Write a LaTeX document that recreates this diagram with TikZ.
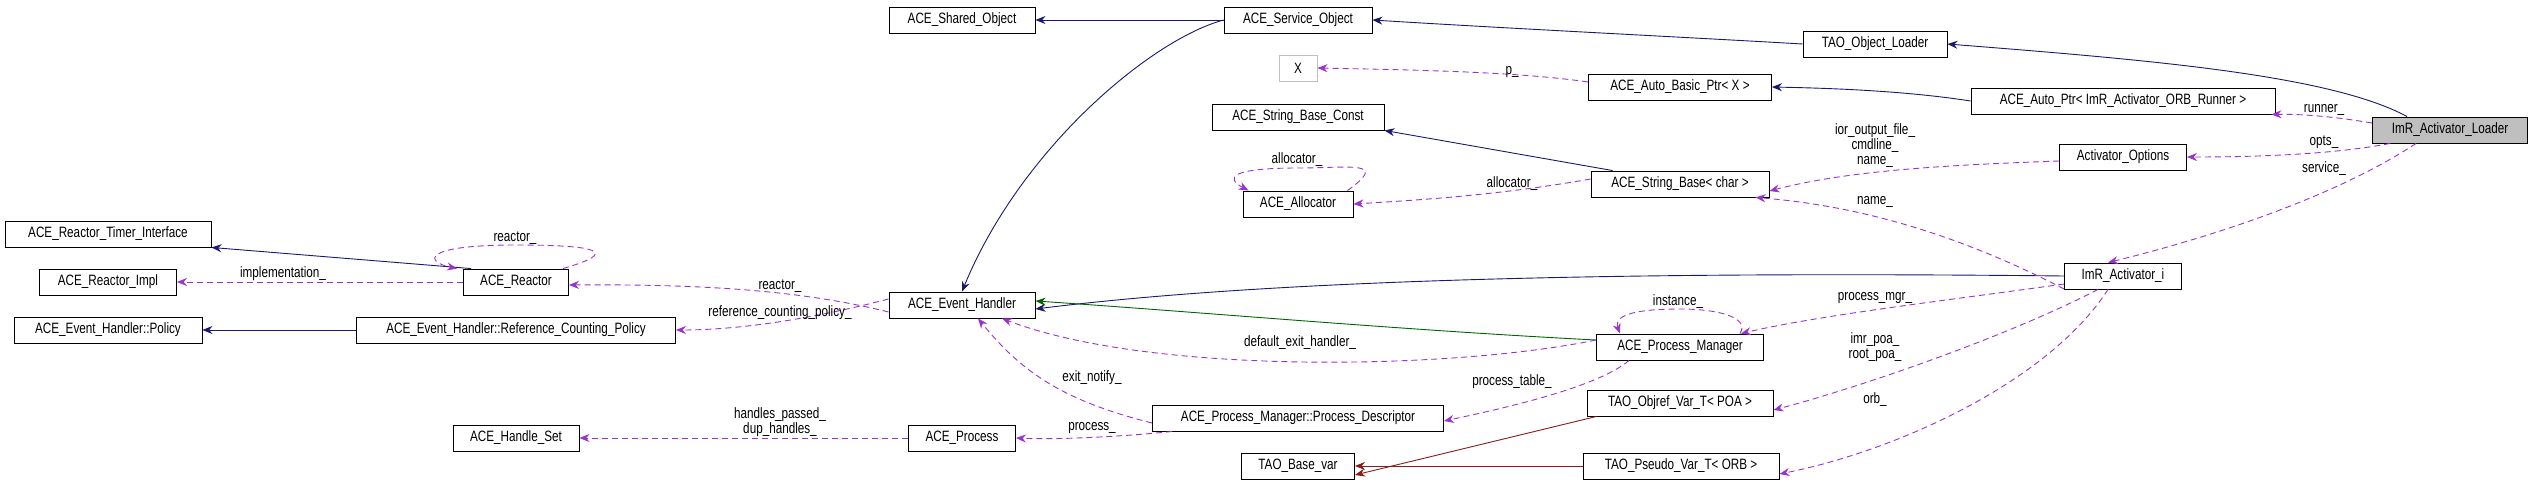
\documentclass[tikz,border=0pt]{standalone}
\usepackage{fontspec}
\setmainfont{Liberation Sans}
\usetikzlibrary{arrows.meta}
\definecolor{navy}{HTML}{191970}
\definecolor{purp}{HTML}{9A32CD}
\definecolor{dgreen}{HTML}{006400}
\definecolor{dred}{HTML}{8B1A1A}
\newcommand{\tx}[1]{\scalebox{0.78}[1]{#1}}
\tikzset{
  box/.style={draw=black, line width=0.9pt, minimum height=26pt, inner sep=0pt, font=\fontsize{15}{16}\selectfont, fill=white},
  lbl/.style={font=\fontsize{15}{15}\selectfont, align=center, inner sep=1pt},
  tip/.style={-{Stealth[length=10pt,width=8pt]}},
  inh/.style={tip, draw=navy, line width=0.9pt},
  grn/.style={tip, draw=dgreen, line width=0.9pt},
  red/.style={tip, draw=dred, line width=0.9pt},
  use/.style={tip, draw=purp, dashed, dash pattern=on 6pt off 4pt, line width=0.9pt},
}
\begin{document}
\begin{tikzpicture}[x=1pt,y=-1pt]
\useasboundingbox (0,0) rectangle (2533,484);
% nodes
\node[box, minimum width=146pt] (shared) at (962,20) {\tx{ACE\_Shared\_Object}};
\node[box, minimum width=148pt] (so) at (1298,20) {\tx{ACE\_Service\_Object}};
\node[box, minimum width=144pt] (tol) at (1875,44) {\tx{TAO\_Object\_Loader}};
\node[box, draw={rgb,255:red,191;green,191;blue,191}, minimum width=38pt] (x) at (1298,68) {\tx{X}};
\node[box, minimum width=183pt] (abp) at (1680,87) {\tx{ACE\_Auto\_Basic\_Ptr< X >}};
\node[box, minimum width=304pt] (ap) at (2123,101) {\tx{ACE\_Auto\_Ptr< ImR\_Activator\_ORB\_Runner >}};
\node[box, fill={rgb,255:red,191;green,191;blue,191}, minimum width=155pt] (ld) at (2450,130) {\tx{ImR\_Activator\_Loader}};
\node[box, minimum width=172pt] (sbc) at (1298,117) {\tx{ACE\_String\_Base\_Const}};
\node[box, minimum width=127pt] (ao) at (2123,157) {\tx{Activator\_Options}};
\node[box, minimum width=178pt] (sb) at (1680,184) {\tx{ACE\_String\_Base< char >}};
\node[box, minimum width=110pt] (al) at (1298,204) {\tx{ACE\_Allocator}};
\node[box, minimum width=206pt] (rti) at (108,234) {\tx{ACE\_Reactor\_Timer\_Interface}};
\node[box, minimum width=137pt] (rim) at (108,282) {\tx{ACE\_Reactor\_Impl}};
\node[box, minimum width=105pt] (re) at (516,282) {\tx{ACE\_Reactor}};
\node[box, minimum width=146pt] (eh) at (962,305) {\tx{ACE\_Event\_Handler}};
\node[box, minimum width=117pt] (imr) at (2123,276) {\tx{ImR\_Activator\_i}};
\node[box, minimum width=188pt] (pol) at (108,330) {\tx{ACE\_Event\_Handler::Policy}};
\node[box, minimum width=319pt] (rcp) at (516,330) {\tx{ACE\_Event\_Handler::Reference\_Counting\_Policy}};
\node[box, minimum width=167pt] (pm) at (1680,347) {\tx{ACE\_Process\_Manager}};
\node[box, minimum width=291pt] (pd) at (1298,418) {\tx{ACE\_Process\_Manager::Process\_Descriptor}};
\node[box, minimum width=186pt] (ov) at (1680,403) {\tx{TAO\_Objref\_Var\_T< POA >}};
\node[box, minimum width=126pt] (hs) at (516,438) {\tx{ACE\_Handle\_Set}};
\node[box, minimum width=107pt] (pr) at (962,438) {\tx{ACE\_Process}};
\node[box, minimum width=113pt] (bv) at (1298,466) {\tx{TAO\_Base\_var}};
\node[box, minimum width=196pt] (pv) at (1681,466) {\tx{TAO\_Pseudo\_Var\_T< ORB >}};
% inheritance
\draw[inh] (so.west) -- (shared.east);
\draw[inh] (so.west) .. controls (1150,40) and (1020,150) .. (eh.north);
\draw[inh] (tol.west) .. controls (1700,38) and (1500,28) .. (so.east);
\draw[inh] (ld.north west) ++(35,0) .. controls (2330,75) and (2150,60) .. (tol.east);
\draw[inh] (ap.west) .. controls (1900,90) and (1820,88) .. (abp.east);
\draw[inh] (sb.north west) ++(22,0) -- (sbc.south east);
\draw[inh] (re.north west) ++(8,0) -- (rti.south east);
\draw[inh] (rcp.west) -- (pol.east);
\draw[inh] (imr.west) .. controls (1700,272) and (1300,276) .. ([yshift=-4pt]eh.east);
\draw[grn] (pm.west) ++(0,-7) .. controls (1400,330) and (1200,312) .. ([yshift=4pt]eh.east);
\draw[red] (ov.south west) ++(10,0) -- ([yshift=-9pt]bv.east);
\draw[red] (pv.west) -- (bv.east);
% usage
\draw[use] (abp.west) ++(0,-5) .. controls (1520,72) and (1420,70) .. (x.east);
\node[lbl] (l1) at (1512,72) {\tx{p\_}};
\draw[use] (ld.west) ++(0,-7) .. controls (2330,116) and (2300,114) .. ([xshift=-4pt]ap.south east);
\node[lbl] (l2) at (2324,110) {\tx{runner\_}};
\draw[use] (ld.south west) ++(18,0) .. controls (2330,155) and (2250,157) .. (ao.east);
\node[lbl] (l3) at (2324,142) {\tx{opts\_}};
\draw[use] (ld.south west) ++(44,0) .. controls (2330,200) and (2200,240) .. ([xshift=-15pt]imr.north);
\node[lbl] (l4) at (2324,169) {\tx{service\_}};
\draw[use] (ao.west) ++(0,4) .. controls (1950,165) and (1850,170) .. ([yshift=-7pt]sb.east);
\node[lbl] (l5) at (1875,146) {\tx{ior\_output\_file\_}\\\tx{cmdline\_}\\\tx{name\_}};
\draw[use] ([yshift=-13pt]imr.west) .. controls (1950,230) and (1850,205) .. ([xshift=-14pt]sb.south east);
\node[lbl] (l6) at (1875,202) {\tx{name\_}};
\draw[use] ([yshift=5pt]sb.west) .. controls (1500,195) and (1420,200) .. (al.east);
\node[lbl] (l7) at (1512,184) {\tx{allocator\_}};
\draw[use] ([xshift=-6pt]al.north east) .. controls (1390,160) and (1350,168) .. (1298,168) .. controls (1230,168) and (1225,178) .. ([xshift=6pt]al.north west);
\node[lbl] (l8) at (1297,160) {\tx{allocator\_}};
\draw[use] ([xshift=-6pt]re.north east) .. controls (620,252) and (600,245) .. (516,245) .. controls (420,245) and (425,262) .. ([xshift=-6pt]re.north west);
\node[lbl] (l9) at (515,238) {\tx{reactor\_}};
\draw[use] (re.west) -- (rim.east);
\node[lbl] (l10) at (283,274) {\tx{implementation\_}};
\draw[use] ([yshift=-7pt]eh.west) .. controls (800,290) and (700,284) .. ([yshift=-3pt]re.east);
\node[lbl] (l11) at (780,286) {\tx{reactor\_}};
\draw[use] ([yshift=6pt]eh.west) .. controls (800,322) and (730,330) .. (rcp.east);
\node[lbl] (l12) at (780,313) {\tx{reference\_counting\_policy\_}};
\draw[use] ([yshift=7pt]pm.west) .. controls (1450,370) and (1150,375) .. ([xshift=40pt]eh.south);
\node[lbl] (l13) at (1300,343) {\tx{default\_exit\_handler\_}};
\draw[use] ([yshift=-5pt]pd.west) .. controls (1060,400) and (1020,370) .. ([xshift=16pt]eh.south);
\node[lbl] (l14) at (1092,378) {\tx{exit\_notify\_}};
\draw[use] ([yshift=-8pt]imr.west) .. controls (1950,300) and (1820,315) .. ([xshift=-23pt]pm.north east);
\node[lbl] (l15) at (1875,298) {\tx{process\_mgr\_}};
\draw[use] ([xshift=-24pt]pm.north east) .. controls (1750,318) and (1720,309) .. (1680,309) .. controls (1620,309) and (1615,320) .. ([xshift=24pt]pm.north west);
\node[lbl] (l16) at (1678,302) {\tx{instance\_}};
\draw[use] ([xshift=33pt]pm.south west) .. controls (1600,385) and (1520,405) .. ([yshift=-3pt]pd.east);
\node[lbl] (l17) at (1512,382) {\tx{process\_table\_}};
\draw[use] ([xshift=20pt]pd.south west) .. controls (1130,436) and (1060,440) .. (pr.east);
\node[lbl] (l18) at (1092,428) {\tx{process\_}};
\draw[use] (pr.west) -- (hs.east);
\node[lbl] (l19) at (780,422) {\tx{handles\_passed\_}\\\tx{dup\_handles\_}};
\draw[use] ([xshift=-25pt]imr.south) .. controls (2000,340) and (1850,390) .. ([yshift=-7pt]ov.east);
\node[lbl] (l20) at (1875,347) {\tx{imr\_poa\_}\\\tx{root\_poa\_}};
\draw[use] ([xshift=-15pt]imr.south) .. controls (2050,380) and (1900,450) .. ([yshift=-8pt]pv.east);
\node[lbl] (l21) at (1875,400) {\tx{orb\_}};
\end{tikzpicture}
\end{document}
